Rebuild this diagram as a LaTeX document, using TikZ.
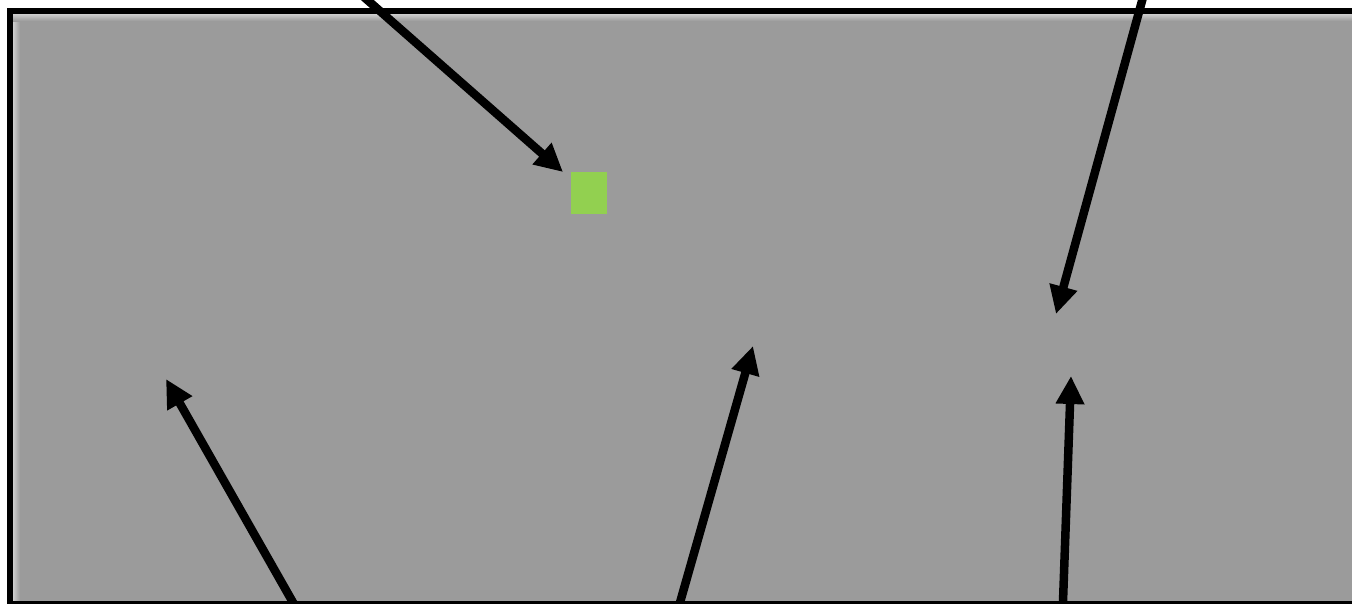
\documentclass[tikz,border=0pt]{standalone}
\usetikzlibrary{arrows.meta}
\definecolor{panelgray}{RGB}{155,155,155}
\definecolor{edgegray}{RGB}{205,205,205}
\definecolor{boxgreen}{RGB}{146,208,80}
\tikzset{
  pointer/.style={line width=8.5pt,draw=black,-{Triangle[length=28pt,width=27pt]}},
  greenbox/.style={fill=boxgreen,draw=none,minimum width=36pt,minimum height=42pt,inner sep=0pt,anchor=north west}
}
\begin{document}
\begin{tikzpicture}[x=1pt,y=-1pt]
\clip (0,0) rectangle (1352,603);
\fill[white] (0,0) rectangle (1352,603);
% panel
\fill[panelgray] (10,11) rectangle (1370,620);
\shade[left color=edgegray,right color=panelgray] (13,14) rectangle (20,620);
\shade[top color=edgegray,bottom color=panelgray] (13,14) rectangle (1370,21);
\draw[line width=6pt] (10,11) rectangle (1380,604);
% green square
\node[greenbox] (g) at (571,172) {};
% arrows
\coordinate (s1) at (356,-10);   \coordinate (t1) at (563,172);
\coordinate (s2) at (1145,-10);  \coordinate (t2) at (1056,314);
\coordinate (s3) at (299,613);   \coordinate (t3) at (166,379);
\coordinate (s4) at (677,613);   \coordinate (t4) at (753,346);
\coordinate (s5) at (1062.6,613);\coordinate (t5) at (1071,376);
\draw[pointer] (s1) -- (t1);
\draw[pointer] (s2) -- (t2);
\draw[pointer] (s3) -- (t3);
\draw[pointer] (s4) -- (t4);
\draw[pointer] (s5) -- (t5);
\end{tikzpicture}
\end{document}
